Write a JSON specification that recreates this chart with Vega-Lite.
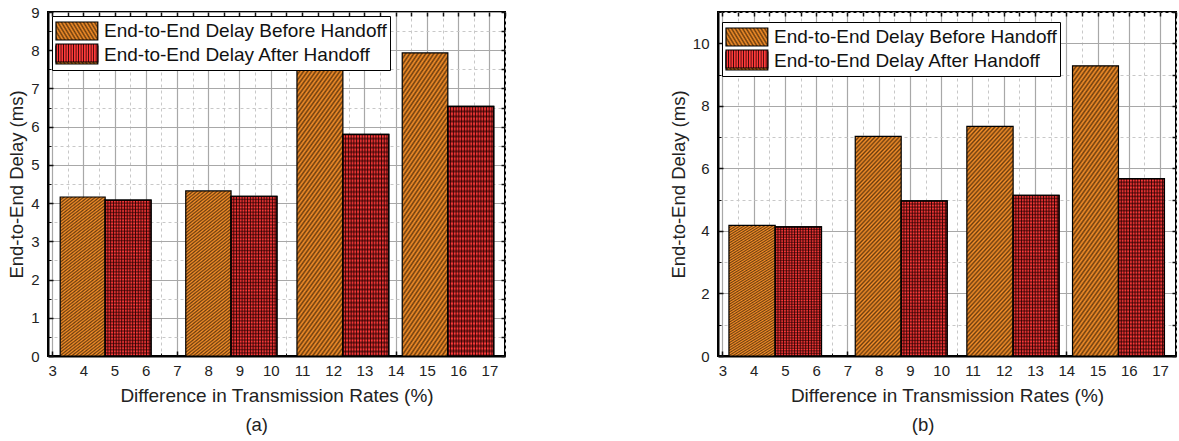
{
  "$schema": "https://vega.github.io/schema/vega-lite/v6.json",
  "padding": {"left": 6, "top": 4, "right": 1, "bottom": 2},
  "datasets": {
    "a": [
      {"series": "End-to-End Delay Before Handoff", "x0": 3.26, "x1": 4.70, "delay": 4.16},
      {"series": "End-to-End Delay Before Handoff", "x0": 7.28, "x1": 8.73, "delay": 4.32},
      {"series": "End-to-End Delay Before Handoff", "x0": 10.84, "x1": 12.31, "delay": 7.50},
      {"series": "End-to-End Delay Before Handoff", "x0": 14.21, "x1": 15.67, "delay": 7.93},
      {"series": "End-to-End Delay After Handoff", "x0": 4.70, "x1": 6.17, "delay": 4.08},
      {"series": "End-to-End Delay After Handoff", "x0": 8.73, "x1": 10.20, "delay": 4.18},
      {"series": "End-to-End Delay After Handoff", "x0": 12.31, "x1": 13.78, "delay": 5.80},
      {"series": "End-to-End Delay After Handoff", "x0": 15.67, "x1": 17.14, "delay": 6.53}
    ],
    "b": [
      {"series": "End-to-End Delay Before Handoff", "x0": 3.21, "x1": 4.69, "delay": 4.18},
      {"series": "End-to-End Delay Before Handoff", "x0": 7.25, "x1": 8.72, "delay": 7.02},
      {"series": "End-to-End Delay Before Handoff", "x0": 10.82, "x1": 12.30, "delay": 7.34},
      {"series": "End-to-End Delay Before Handoff", "x0": 14.20, "x1": 15.67, "delay": 9.28},
      {"series": "End-to-End Delay After Handoff", "x0": 4.69, "x1": 6.17, "delay": 4.13},
      {"series": "End-to-End Delay After Handoff", "x0": 8.72, "x1": 10.19, "delay": 4.96},
      {"series": "End-to-End Delay After Handoff", "x0": 12.30, "x1": 13.77, "delay": 5.14},
      {"series": "End-to-End Delay After Handoff", "x0": 15.67, "x1": 17.14, "delay": 5.67}
    ]
  },
  "config": {
    "font": "Liberation Sans",
    "view": {"stroke": "black", "strokeWidth": 2},
    "axis": {
      "labelFont": "Liberation Sans", "labelFontSize": 15, "labelColor": "#222",
      "titleFont": "Liberation Sans", "titleFontSize": 18.5, "titleFontWeight": "normal", "titleColor": "#222",
      "tickColor": "#111", "domain": false
    },
    "legend": {
      "labelFont": "Liberation Sans", "labelFontSize": 19, "labelColor": "#111", "labelLimit": 500,
      "symbolType": "M-1,-0.82H2.8V0.82H-1Z", "symbolSize": 484, "symbolStrokeColor": "black", "symbolStrokeWidth": 1.2,
      "symbolOpacity": 1, "rowPadding": 0, "labelOffset": 25,
      "fillColor": "white", "strokeColor": "black", "padding": 3, "title": null
    },
    "title": {"font": "Liberation Sans", "fontSize": 18.5, "fontWeight": "normal", "color": "#222"}
  },
  "resolve": {"legend": {"stroke": "independent"}, "scale": {"stroke": "independent"}},
  "spacing": 161,
  "hconcat": [
    {
      "width": 457, "height": 344,
      "data": {"name": "a"},
      "title": {"text": "(a)", "orient": "bottom", "anchor": "middle", "frame": "bounds", "offset": 11},
      "resolve": {"axis": {"x": "independent", "y": "independent"}, "scale": {"stroke": "independent"}, "legend": {"stroke": "independent"}},
      "layer": [
        {
          "mark": {"type": "point", "opacity": 0},
          "encoding": {
            "x": {"field": "x0", "type": "quantitative", "scale": {"domain": [2.87, 17.5], "nice": false, "zero": false},
              "axis": {"orient": "bottom", "values": [3.5,4.5,5.5,6.5,7.5,8.5,9.5,10.5,11.5,12.5,13.5,14.5,15.5,16.5,17.5], "grid": true, "gridColor": "#c8c8c8", "gridDash": [3, 3], "tickSize": -3, "labels": false, "title": null}},
            "y": {"field": "delay", "type": "quantitative", "scale": {"domain": [0, 9], "nice": false},
              "axis": {"orient": "left", "values": [0.5,1.5,2.5,3.5,4.5,5.5,6.5,7.5,8.5], "grid": true, "gridColor": "#c8c8c8", "gridDash": [3, 3], "tickSize": -3, "labels": false, "title": null}}
          }
        },
        {
          "transform": [{"filter": "datum.series === 'End-to-End Delay Before Handoff'"}],
          "mark": {"type": "rect", "strokeWidth": 1.2, "fill": {"gradient": "linear", "x1": 0, "y1": 0, "x2": 0.2588, "y2": 1.1647, "stops": [
            {"offset": 0, "color": "#6a3c0e"}, {"offset": 0.008, "color": "#f7902a"}, {"offset": 0.016, "color": "#6a3c0e"}, {"offset": 0.024, "color": "#f7902a"},
            {"offset": 0.032, "color": "#6a3c0e"}, {"offset": 0.04, "color": "#f7902a"}, {"offset": 0.048, "color": "#6a3c0e"}, {"offset": 0.056, "color": "#f7902a"},
            {"offset": 0.064, "color": "#6a3c0e"}, {"offset": 0.072, "color": "#f7902a"}, {"offset": 0.08, "color": "#6a3c0e"}, {"offset": 0.088, "color": "#f7902a"},
            {"offset": 0.096, "color": "#6a3c0e"}, {"offset": 0.104, "color": "#f7902a"}, {"offset": 0.112, "color": "#6a3c0e"}, {"offset": 0.12, "color": "#f7902a"},
            {"offset": 0.128, "color": "#6a3c0e"}, {"offset": 0.136, "color": "#f7902a"}, {"offset": 0.144, "color": "#6a3c0e"}, {"offset": 0.152, "color": "#f7902a"},
            {"offset": 0.16, "color": "#6a3c0e"}, {"offset": 0.168, "color": "#f7902a"}, {"offset": 0.176, "color": "#6a3c0e"}, {"offset": 0.184, "color": "#f7902a"},
            {"offset": 0.192, "color": "#6a3c0e"}, {"offset": 0.2, "color": "#f7902a"}, {"offset": 0.208, "color": "#6a3c0e"}, {"offset": 0.216, "color": "#f7902a"},
            {"offset": 0.224, "color": "#6a3c0e"}, {"offset": 0.232, "color": "#f7902a"}, {"offset": 0.24, "color": "#6a3c0e"}, {"offset": 0.248, "color": "#f7902a"},
            {"offset": 0.256, "color": "#6a3c0e"}, {"offset": 0.264, "color": "#f7902a"}, {"offset": 0.272, "color": "#6a3c0e"}, {"offset": 0.28, "color": "#f7902a"},
            {"offset": 0.288, "color": "#6a3c0e"}, {"offset": 0.296, "color": "#f7902a"}, {"offset": 0.304, "color": "#6a3c0e"}, {"offset": 0.312, "color": "#f7902a"},
            {"offset": 0.32, "color": "#6a3c0e"}, {"offset": 0.328, "color": "#f7902a"}, {"offset": 0.336, "color": "#6a3c0e"}, {"offset": 0.344, "color": "#f7902a"},
            {"offset": 0.352, "color": "#6a3c0e"}, {"offset": 0.36, "color": "#f7902a"}, {"offset": 0.368, "color": "#6a3c0e"}, {"offset": 0.376, "color": "#f7902a"},
            {"offset": 0.384, "color": "#6a3c0e"}, {"offset": 0.392, "color": "#f7902a"}, {"offset": 0.4, "color": "#6a3c0e"}, {"offset": 0.408, "color": "#f7902a"},
            {"offset": 0.416, "color": "#6a3c0e"}, {"offset": 0.424, "color": "#f7902a"}, {"offset": 0.432, "color": "#6a3c0e"}, {"offset": 0.44, "color": "#f7902a"},
            {"offset": 0.448, "color": "#6a3c0e"}, {"offset": 0.456, "color": "#f7902a"}, {"offset": 0.464, "color": "#6a3c0e"}, {"offset": 0.472, "color": "#f7902a"},
            {"offset": 0.48, "color": "#6a3c0e"}, {"offset": 0.488, "color": "#f7902a"}, {"offset": 0.496, "color": "#6a3c0e"}, {"offset": 0.504, "color": "#f7902a"},
            {"offset": 0.512, "color": "#6a3c0e"}, {"offset": 0.52, "color": "#f7902a"}, {"offset": 0.528, "color": "#6a3c0e"}, {"offset": 0.536, "color": "#f7902a"},
            {"offset": 0.544, "color": "#6a3c0e"}, {"offset": 0.552, "color": "#f7902a"}, {"offset": 0.56, "color": "#6a3c0e"}, {"offset": 0.568, "color": "#f7902a"},
            {"offset": 0.576, "color": "#6a3c0e"}, {"offset": 0.584, "color": "#f7902a"}, {"offset": 0.592, "color": "#6a3c0e"}, {"offset": 0.6, "color": "#f7902a"},
            {"offset": 0.608, "color": "#6a3c0e"}, {"offset": 0.616, "color": "#f7902a"}, {"offset": 0.624, "color": "#6a3c0e"}, {"offset": 0.632, "color": "#f7902a"},
            {"offset": 0.64, "color": "#6a3c0e"}, {"offset": 0.648, "color": "#f7902a"}, {"offset": 0.656, "color": "#6a3c0e"}, {"offset": 0.664, "color": "#f7902a"},
            {"offset": 0.672, "color": "#6a3c0e"}, {"offset": 0.68, "color": "#f7902a"}, {"offset": 0.688, "color": "#6a3c0e"}, {"offset": 0.696, "color": "#f7902a"},
            {"offset": 0.704, "color": "#6a3c0e"}, {"offset": 0.712, "color": "#f7902a"}, {"offset": 0.72, "color": "#6a3c0e"}, {"offset": 0.728, "color": "#f7902a"},
            {"offset": 0.736, "color": "#6a3c0e"}, {"offset": 0.744, "color": "#f7902a"}, {"offset": 0.752, "color": "#6a3c0e"}, {"offset": 0.76, "color": "#f7902a"},
            {"offset": 0.768, "color": "#6a3c0e"}, {"offset": 0.776, "color": "#f7902a"}, {"offset": 0.784, "color": "#6a3c0e"}, {"offset": 0.792, "color": "#f7902a"},
            {"offset": 0.8, "color": "#6a3c0e"}, {"offset": 0.808, "color": "#f7902a"}, {"offset": 0.816, "color": "#6a3c0e"}, {"offset": 0.824, "color": "#f7902a"},
            {"offset": 0.832, "color": "#6a3c0e"}, {"offset": 0.84, "color": "#f7902a"}, {"offset": 0.848, "color": "#6a3c0e"}, {"offset": 0.856, "color": "#f7902a"},
            {"offset": 0.864, "color": "#6a3c0e"}, {"offset": 0.872, "color": "#f7902a"}, {"offset": 0.88, "color": "#6a3c0e"}, {"offset": 0.888, "color": "#f7902a"},
            {"offset": 0.896, "color": "#6a3c0e"}, {"offset": 0.904, "color": "#f7902a"}, {"offset": 0.912, "color": "#6a3c0e"}, {"offset": 0.92, "color": "#f7902a"},
            {"offset": 0.928, "color": "#6a3c0e"}, {"offset": 0.936, "color": "#f7902a"}, {"offset": 0.944, "color": "#6a3c0e"}, {"offset": 0.952, "color": "#f7902a"},
            {"offset": 0.96, "color": "#6a3c0e"}, {"offset": 0.968, "color": "#f7902a"}, {"offset": 0.976, "color": "#6a3c0e"}, {"offset": 0.984, "color": "#f7902a"},
            {"offset": 0.992, "color": "#6a3c0e"}, {"offset": 1, "color": "#f7902a"}]}},
          "encoding": {
            "x": {"field": "x0", "type": "quantitative",
              "axis": {"orient": "bottom", "values": [3,4,5,6,7,8,9,10,11,12,13,14,15,16,17], "grid": true, "gridColor": "#a8a8a8", "gridWidth": 1.2, "tickSize": -5, "tickWidth": 1.5, "labelPadding": 12, "domain": true, "domainColor": "black", "domainWidth": 2, "title": "Difference in Transmission Rates (%)", "titlePadding": 8, "titleFontSize": 19}},
            "x2": {"field": "x1"},
            "y": {"field": "delay", "type": "quantitative",
              "axis": {"orient": "left", "values": [0,1,2,3,4,5,6,7,8,9], "grid": true, "gridColor": "#a8a8a8", "gridWidth": 1.2, "tickSize": -5, "tickWidth": 1.5, "labelPadding": 14, "domain": true, "domainColor": "black", "domainWidth": 2, "title": "End-to-End Delay (ms)", "titlePadding": 4}},
            "y2": {"datum": 0},
            "stroke": {"field": "series", "type": "nominal",
              "scale": {"domain": ["End-to-End Delay Before Handoff", "End-to-End Delay After Handoff"], "range": ["black", "black"]},
              "legend": {"orient": "none", "legendX": 4, "legendY": 4, "zindex": 1}}
          }
        },
        {
          "transform": [{"filter": "datum.series === 'End-to-End Delay After Handoff'"}],
          "mark": {"type": "rect", "strokeWidth": 1.2, "fill": {"gradient": "linear", "x1": 0, "y1": 0, "x2": 1, "y2": 0, "stops": [
            {"offset": 0, "color": "#3a0606"}, {"offset": 0.02, "color": "#ff3a3a"}, {"offset": 0.04, "color": "#ff3a3a"},
            {"offset": 0.06, "color": "#3a0606"}, {"offset": 0.08, "color": "#ff3a3a"}, {"offset": 0.1, "color": "#ff3a3a"},
            {"offset": 0.12, "color": "#3a0606"}, {"offset": 0.14, "color": "#ff3a3a"}, {"offset": 0.16, "color": "#ff3a3a"},
            {"offset": 0.18, "color": "#3a0606"}, {"offset": 0.2, "color": "#ff3a3a"}, {"offset": 0.22, "color": "#ff3a3a"},
            {"offset": 0.24, "color": "#3a0606"}, {"offset": 0.26, "color": "#ff3a3a"}, {"offset": 0.28, "color": "#ff3a3a"},
            {"offset": 0.3, "color": "#3a0606"}, {"offset": 0.32, "color": "#ff3a3a"}, {"offset": 0.34, "color": "#ff3a3a"},
            {"offset": 0.36, "color": "#3a0606"}, {"offset": 0.38, "color": "#ff3a3a"}, {"offset": 0.4, "color": "#ff3a3a"},
            {"offset": 0.42, "color": "#3a0606"}, {"offset": 0.44, "color": "#ff3a3a"}, {"offset": 0.46, "color": "#ff3a3a"},
            {"offset": 0.48, "color": "#3a0606"}, {"offset": 0.5, "color": "#ff3a3a"}, {"offset": 0.52, "color": "#ff3a3a"},
            {"offset": 0.54, "color": "#3a0606"}, {"offset": 0.56, "color": "#ff3a3a"}, {"offset": 0.58, "color": "#ff3a3a"},
            {"offset": 0.6, "color": "#3a0606"}, {"offset": 0.62, "color": "#ff3a3a"}, {"offset": 0.64, "color": "#ff3a3a"},
            {"offset": 0.66, "color": "#3a0606"}, {"offset": 0.68, "color": "#ff3a3a"}, {"offset": 0.7, "color": "#ff3a3a"},
            {"offset": 0.72, "color": "#3a0606"}, {"offset": 0.74, "color": "#ff3a3a"}, {"offset": 0.76, "color": "#ff3a3a"},
            {"offset": 0.78, "color": "#3a0606"}, {"offset": 0.8, "color": "#ff3a3a"}, {"offset": 0.82, "color": "#ff3a3a"},
            {"offset": 0.84, "color": "#3a0606"}, {"offset": 0.86, "color": "#ff3a3a"}, {"offset": 0.88, "color": "#ff3a3a"},
            {"offset": 0.9, "color": "#3a0606"}, {"offset": 0.92, "color": "#ff3a3a"}, {"offset": 0.94, "color": "#ff3a3a"},
            {"offset": 0.96, "color": "#3a0606"}, {"offset": 0.98, "color": "#ff3a3a"}, {"offset": 1, "color": "#ff3a3a"}]}},
          "encoding": {
            "x": {"field": "x0", "type": "quantitative", "axis": null},
            "x2": {"field": "x1"},
            "y": {"field": "delay", "type": "quantitative", "axis": null},
            "y2": {"datum": 0},
            "stroke": {"field": "series", "type": "nominal",
              "scale": {"domain": ["End-to-End Delay After Handoff"], "range": ["black"]},
              "legend": {"orient": "none", "legendX": 4, "legendY": 26, "zindex": 2, "fillColor": "transparent", "strokeColor": "transparent", "labelOpacity": 0}}
          }
        },
        {
          "transform": [{"filter": "datum.series === 'End-to-End Delay After Handoff'"}],
          "mark": {"type": "rect", "stroke": "black", "strokeWidth": 1.2, "fill": {"gradient": "linear", "x1": 0, "y1": 0, "x2": 0, "y2": 1, "stops": [
            {"offset": 0, "color": "#280000a6"}, {"offset": 0.01, "color": "#28000000"}, {"offset": 0.02, "color": "#280000a6"}, {"offset": 0.03, "color": "#28000000"},
            {"offset": 0.04, "color": "#280000a6"}, {"offset": 0.05, "color": "#28000000"}, {"offset": 0.06, "color": "#280000a6"}, {"offset": 0.07, "color": "#28000000"},
            {"offset": 0.08, "color": "#280000a6"}, {"offset": 0.09, "color": "#28000000"}, {"offset": 0.1, "color": "#280000a6"}, {"offset": 0.11, "color": "#28000000"},
            {"offset": 0.12, "color": "#280000a6"}, {"offset": 0.13, "color": "#28000000"}, {"offset": 0.14, "color": "#280000a6"}, {"offset": 0.15, "color": "#28000000"},
            {"offset": 0.16, "color": "#280000a6"}, {"offset": 0.17, "color": "#28000000"}, {"offset": 0.18, "color": "#280000a6"}, {"offset": 0.19, "color": "#28000000"},
            {"offset": 0.2, "color": "#280000a6"}, {"offset": 0.21, "color": "#28000000"}, {"offset": 0.22, "color": "#280000a6"}, {"offset": 0.23, "color": "#28000000"},
            {"offset": 0.24, "color": "#280000a6"}, {"offset": 0.25, "color": "#28000000"}, {"offset": 0.26, "color": "#280000a6"}, {"offset": 0.27, "color": "#28000000"},
            {"offset": 0.28, "color": "#280000a6"}, {"offset": 0.29, "color": "#28000000"}, {"offset": 0.3, "color": "#280000a6"}, {"offset": 0.31, "color": "#28000000"},
            {"offset": 0.32, "color": "#280000a6"}, {"offset": 0.33, "color": "#28000000"}, {"offset": 0.34, "color": "#280000a6"}, {"offset": 0.35, "color": "#28000000"},
            {"offset": 0.36, "color": "#280000a6"}, {"offset": 0.37, "color": "#28000000"}, {"offset": 0.38, "color": "#280000a6"}, {"offset": 0.39, "color": "#28000000"},
            {"offset": 0.4, "color": "#280000a6"}, {"offset": 0.41, "color": "#28000000"}, {"offset": 0.42, "color": "#280000a6"}, {"offset": 0.43, "color": "#28000000"},
            {"offset": 0.44, "color": "#280000a6"}, {"offset": 0.45, "color": "#28000000"}, {"offset": 0.46, "color": "#280000a6"}, {"offset": 0.47, "color": "#28000000"},
            {"offset": 0.48, "color": "#280000a6"}, {"offset": 0.49, "color": "#28000000"}, {"offset": 0.5, "color": "#280000a6"}, {"offset": 0.51, "color": "#28000000"},
            {"offset": 0.52, "color": "#280000a6"}, {"offset": 0.53, "color": "#28000000"}, {"offset": 0.54, "color": "#280000a6"}, {"offset": 0.55, "color": "#28000000"},
            {"offset": 0.56, "color": "#280000a6"}, {"offset": 0.57, "color": "#28000000"}, {"offset": 0.58, "color": "#280000a6"}, {"offset": 0.59, "color": "#28000000"},
            {"offset": 0.6, "color": "#280000a6"}, {"offset": 0.61, "color": "#28000000"}, {"offset": 0.62, "color": "#280000a6"}, {"offset": 0.63, "color": "#28000000"},
            {"offset": 0.64, "color": "#280000a6"}, {"offset": 0.65, "color": "#28000000"}, {"offset": 0.66, "color": "#280000a6"}, {"offset": 0.67, "color": "#28000000"},
            {"offset": 0.68, "color": "#280000a6"}, {"offset": 0.69, "color": "#28000000"}, {"offset": 0.7, "color": "#280000a6"}, {"offset": 0.71, "color": "#28000000"},
            {"offset": 0.72, "color": "#280000a6"}, {"offset": 0.73, "color": "#28000000"}, {"offset": 0.74, "color": "#280000a6"}, {"offset": 0.75, "color": "#28000000"},
            {"offset": 0.76, "color": "#280000a6"}, {"offset": 0.77, "color": "#28000000"}, {"offset": 0.78, "color": "#280000a6"}, {"offset": 0.79, "color": "#28000000"},
            {"offset": 0.8, "color": "#280000a6"}, {"offset": 0.81, "color": "#28000000"}, {"offset": 0.82, "color": "#280000a6"}, {"offset": 0.83, "color": "#28000000"},
            {"offset": 0.84, "color": "#280000a6"}, {"offset": 0.85, "color": "#28000000"}, {"offset": 0.86, "color": "#280000a6"}, {"offset": 0.87, "color": "#28000000"},
            {"offset": 0.88, "color": "#280000a6"}, {"offset": 0.89, "color": "#28000000"}, {"offset": 0.9, "color": "#280000a6"}, {"offset": 0.91, "color": "#28000000"},
            {"offset": 0.92, "color": "#280000a6"}, {"offset": 0.93, "color": "#28000000"}, {"offset": 0.94, "color": "#280000a6"}, {"offset": 0.95, "color": "#28000000"},
            {"offset": 0.96, "color": "#280000a6"}, {"offset": 0.97, "color": "#28000000"}, {"offset": 0.98, "color": "#280000a6"}, {"offset": 0.99, "color": "#28000000"},
            {"offset": 1, "color": "#280000a6"}]}},
          "encoding": {
            "x": {"field": "x0", "type": "quantitative", "axis": null},
            "x2": {"field": "x1"},
            "y": {"field": "delay", "type": "quantitative", "axis": null},
            "y2": {"datum": 0}
          }
        },
        {
          "mark": {"type": "point", "opacity": 0},
          "encoding": {
            "x": {"field": "x0", "type": "quantitative",
              "axis": {"orient": "top", "values": [3,3.5,4,4.5,5,5.5,6,6.5,7,7.5,8,8.5,9,9.5,10,10.5,11,11.5,12,12.5,13,13.5,14,14.5,15,15.5,16,16.5,17,17.5], "grid": false, "tickSize": -4, "tickWidth": 1.5, "labels": false, "title": null, "zindex": 1}},
            "y": {"field": "delay", "type": "quantitative",
              "axis": {"orient": "right", "values": [0,0.5,1,1.5,2,2.5,3,3.5,4,4.5,5,5.5,6,6.5,7,7.5,8,8.5,9], "grid": false, "tickSize": -4, "tickWidth": 1.5, "labels": false, "title": null, "zindex": 1}}
          }
        }
      ]
    },
    {
      "width": 458, "height": 344,
      "data": {"name": "b"},
      "title": {"text": "(b)", "orient": "bottom", "anchor": "middle", "frame": "bounds", "offset": 11},
      "resolve": {"axis": {"x": "independent", "y": "independent"}, "scale": {"stroke": "independent"}, "legend": {"stroke": "independent"}},
      "layer": [
        {
          "mark": {"type": "point", "opacity": 0},
          "encoding": {
            "x": {"field": "x0", "type": "quantitative", "scale": {"domain": [2.86, 17.51], "nice": false, "zero": false},
              "axis": {"orient": "bottom", "values": [3.5,4.5,5.5,6.5,7.5,8.5,9.5,10.5,11.5,12.5,13.5,14.5,15.5,16.5,17.5], "grid": true, "gridColor": "#c8c8c8", "gridDash": [3, 3], "tickSize": -3, "labels": false, "title": null}},
            "y": {"field": "delay", "type": "quantitative", "scale": {"domain": [0, 11], "nice": false},
              "axis": {"orient": "left", "values": [1,3,5,7,9,11], "grid": true, "gridColor": "#c8c8c8", "gridDash": [3, 3], "tickSize": -3, "labels": false, "title": null}}
          }
        },
        {
          "transform": [{"filter": "datum.series === 'End-to-End Delay Before Handoff'"}],
          "mark": {"type": "rect", "strokeWidth": 1.2, "fill": {"gradient": "linear", "x1": 0, "y1": 0, "x2": 0.2588, "y2": 1.1647, "stops": [
            {"offset": 0, "color": "#6a3c0e"}, {"offset": 0.008, "color": "#f7902a"}, {"offset": 0.016, "color": "#6a3c0e"}, {"offset": 0.024, "color": "#f7902a"},
            {"offset": 0.032, "color": "#6a3c0e"}, {"offset": 0.04, "color": "#f7902a"}, {"offset": 0.048, "color": "#6a3c0e"}, {"offset": 0.056, "color": "#f7902a"},
            {"offset": 0.064, "color": "#6a3c0e"}, {"offset": 0.072, "color": "#f7902a"}, {"offset": 0.08, "color": "#6a3c0e"}, {"offset": 0.088, "color": "#f7902a"},
            {"offset": 0.096, "color": "#6a3c0e"}, {"offset": 0.104, "color": "#f7902a"}, {"offset": 0.112, "color": "#6a3c0e"}, {"offset": 0.12, "color": "#f7902a"},
            {"offset": 0.128, "color": "#6a3c0e"}, {"offset": 0.136, "color": "#f7902a"}, {"offset": 0.144, "color": "#6a3c0e"}, {"offset": 0.152, "color": "#f7902a"},
            {"offset": 0.16, "color": "#6a3c0e"}, {"offset": 0.168, "color": "#f7902a"}, {"offset": 0.176, "color": "#6a3c0e"}, {"offset": 0.184, "color": "#f7902a"},
            {"offset": 0.192, "color": "#6a3c0e"}, {"offset": 0.2, "color": "#f7902a"}, {"offset": 0.208, "color": "#6a3c0e"}, {"offset": 0.216, "color": "#f7902a"},
            {"offset": 0.224, "color": "#6a3c0e"}, {"offset": 0.232, "color": "#f7902a"}, {"offset": 0.24, "color": "#6a3c0e"}, {"offset": 0.248, "color": "#f7902a"},
            {"offset": 0.256, "color": "#6a3c0e"}, {"offset": 0.264, "color": "#f7902a"}, {"offset": 0.272, "color": "#6a3c0e"}, {"offset": 0.28, "color": "#f7902a"},
            {"offset": 0.288, "color": "#6a3c0e"}, {"offset": 0.296, "color": "#f7902a"}, {"offset": 0.304, "color": "#6a3c0e"}, {"offset": 0.312, "color": "#f7902a"},
            {"offset": 0.32, "color": "#6a3c0e"}, {"offset": 0.328, "color": "#f7902a"}, {"offset": 0.336, "color": "#6a3c0e"}, {"offset": 0.344, "color": "#f7902a"},
            {"offset": 0.352, "color": "#6a3c0e"}, {"offset": 0.36, "color": "#f7902a"}, {"offset": 0.368, "color": "#6a3c0e"}, {"offset": 0.376, "color": "#f7902a"},
            {"offset": 0.384, "color": "#6a3c0e"}, {"offset": 0.392, "color": "#f7902a"}, {"offset": 0.4, "color": "#6a3c0e"}, {"offset": 0.408, "color": "#f7902a"},
            {"offset": 0.416, "color": "#6a3c0e"}, {"offset": 0.424, "color": "#f7902a"}, {"offset": 0.432, "color": "#6a3c0e"}, {"offset": 0.44, "color": "#f7902a"},
            {"offset": 0.448, "color": "#6a3c0e"}, {"offset": 0.456, "color": "#f7902a"}, {"offset": 0.464, "color": "#6a3c0e"}, {"offset": 0.472, "color": "#f7902a"},
            {"offset": 0.48, "color": "#6a3c0e"}, {"offset": 0.488, "color": "#f7902a"}, {"offset": 0.496, "color": "#6a3c0e"}, {"offset": 0.504, "color": "#f7902a"},
            {"offset": 0.512, "color": "#6a3c0e"}, {"offset": 0.52, "color": "#f7902a"}, {"offset": 0.528, "color": "#6a3c0e"}, {"offset": 0.536, "color": "#f7902a"},
            {"offset": 0.544, "color": "#6a3c0e"}, {"offset": 0.552, "color": "#f7902a"}, {"offset": 0.56, "color": "#6a3c0e"}, {"offset": 0.568, "color": "#f7902a"},
            {"offset": 0.576, "color": "#6a3c0e"}, {"offset": 0.584, "color": "#f7902a"}, {"offset": 0.592, "color": "#6a3c0e"}, {"offset": 0.6, "color": "#f7902a"},
            {"offset": 0.608, "color": "#6a3c0e"}, {"offset": 0.616, "color": "#f7902a"}, {"offset": 0.624, "color": "#6a3c0e"}, {"offset": 0.632, "color": "#f7902a"},
            {"offset": 0.64, "color": "#6a3c0e"}, {"offset": 0.648, "color": "#f7902a"}, {"offset": 0.656, "color": "#6a3c0e"}, {"offset": 0.664, "color": "#f7902a"},
            {"offset": 0.672, "color": "#6a3c0e"}, {"offset": 0.68, "color": "#f7902a"}, {"offset": 0.688, "color": "#6a3c0e"}, {"offset": 0.696, "color": "#f7902a"},
            {"offset": 0.704, "color": "#6a3c0e"}, {"offset": 0.712, "color": "#f7902a"}, {"offset": 0.72, "color": "#6a3c0e"}, {"offset": 0.728, "color": "#f7902a"},
            {"offset": 0.736, "color": "#6a3c0e"}, {"offset": 0.744, "color": "#f7902a"}, {"offset": 0.752, "color": "#6a3c0e"}, {"offset": 0.76, "color": "#f7902a"},
            {"offset": 0.768, "color": "#6a3c0e"}, {"offset": 0.776, "color": "#f7902a"}, {"offset": 0.784, "color": "#6a3c0e"}, {"offset": 0.792, "color": "#f7902a"},
            {"offset": 0.8, "color": "#6a3c0e"}, {"offset": 0.808, "color": "#f7902a"}, {"offset": 0.816, "color": "#6a3c0e"}, {"offset": 0.824, "color": "#f7902a"},
            {"offset": 0.832, "color": "#6a3c0e"}, {"offset": 0.84, "color": "#f7902a"}, {"offset": 0.848, "color": "#6a3c0e"}, {"offset": 0.856, "color": "#f7902a"},
            {"offset": 0.864, "color": "#6a3c0e"}, {"offset": 0.872, "color": "#f7902a"}, {"offset": 0.88, "color": "#6a3c0e"}, {"offset": 0.888, "color": "#f7902a"},
            {"offset": 0.896, "color": "#6a3c0e"}, {"offset": 0.904, "color": "#f7902a"}, {"offset": 0.912, "color": "#6a3c0e"}, {"offset": 0.92, "color": "#f7902a"},
            {"offset": 0.928, "color": "#6a3c0e"}, {"offset": 0.936, "color": "#f7902a"}, {"offset": 0.944, "color": "#6a3c0e"}, {"offset": 0.952, "color": "#f7902a"},
            {"offset": 0.96, "color": "#6a3c0e"}, {"offset": 0.968, "color": "#f7902a"}, {"offset": 0.976, "color": "#6a3c0e"}, {"offset": 0.984, "color": "#f7902a"},
            {"offset": 0.992, "color": "#6a3c0e"}, {"offset": 1, "color": "#f7902a"}]}},
          "encoding": {
            "x": {"field": "x0", "type": "quantitative",
              "axis": {"orient": "bottom", "values": [3,4,5,6,7,8,9,10,11,12,13,14,15,16,17], "grid": true, "gridColor": "#a8a8a8", "gridWidth": 1.2, "tickSize": -5, "tickWidth": 1.5, "labelPadding": 12, "domain": true, "domainColor": "black", "domainWidth": 2, "title": "Difference in Transmission Rates (%)", "titlePadding": 8, "titleFontSize": 19}},
            "x2": {"field": "x1"},
            "y": {"field": "delay", "type": "quantitative",
              "axis": {"orient": "left", "values": [0,2,4,6,8,10], "grid": true, "gridColor": "#a8a8a8", "gridWidth": 1.2, "tickSize": -5, "tickWidth": 1.5, "labelPadding": 14, "domain": true, "domainColor": "black", "domainWidth": 2, "title": "End-to-End Delay (ms)", "titlePadding": 4}},
            "y2": {"datum": 0},
            "stroke": {"field": "series", "type": "nominal",
              "scale": {"domain": ["End-to-End Delay Before Handoff", "End-to-End Delay After Handoff"], "range": ["black", "black"]},
              "legend": {"orient": "none", "legendX": 4, "legendY": 10, "zindex": 1}}
          }
        },
        {
          "transform": [{"filter": "datum.series === 'End-to-End Delay After Handoff'"}],
          "mark": {"type": "rect", "strokeWidth": 1.2, "fill": {"gradient": "linear", "x1": 0, "y1": 0, "x2": 1, "y2": 0, "stops": [
            {"offset": 0, "color": "#3a0606"}, {"offset": 0.02, "color": "#ff3a3a"}, {"offset": 0.04, "color": "#ff3a3a"},
            {"offset": 0.06, "color": "#3a0606"}, {"offset": 0.08, "color": "#ff3a3a"}, {"offset": 0.1, "color": "#ff3a3a"},
            {"offset": 0.12, "color": "#3a0606"}, {"offset": 0.14, "color": "#ff3a3a"}, {"offset": 0.16, "color": "#ff3a3a"},
            {"offset": 0.18, "color": "#3a0606"}, {"offset": 0.2, "color": "#ff3a3a"}, {"offset": 0.22, "color": "#ff3a3a"},
            {"offset": 0.24, "color": "#3a0606"}, {"offset": 0.26, "color": "#ff3a3a"}, {"offset": 0.28, "color": "#ff3a3a"},
            {"offset": 0.3, "color": "#3a0606"}, {"offset": 0.32, "color": "#ff3a3a"}, {"offset": 0.34, "color": "#ff3a3a"},
            {"offset": 0.36, "color": "#3a0606"}, {"offset": 0.38, "color": "#ff3a3a"}, {"offset": 0.4, "color": "#ff3a3a"},
            {"offset": 0.42, "color": "#3a0606"}, {"offset": 0.44, "color": "#ff3a3a"}, {"offset": 0.46, "color": "#ff3a3a"},
            {"offset": 0.48, "color": "#3a0606"}, {"offset": 0.5, "color": "#ff3a3a"}, {"offset": 0.52, "color": "#ff3a3a"},
            {"offset": 0.54, "color": "#3a0606"}, {"offset": 0.56, "color": "#ff3a3a"}, {"offset": 0.58, "color": "#ff3a3a"},
            {"offset": 0.6, "color": "#3a0606"}, {"offset": 0.62, "color": "#ff3a3a"}, {"offset": 0.64, "color": "#ff3a3a"},
            {"offset": 0.66, "color": "#3a0606"}, {"offset": 0.68, "color": "#ff3a3a"}, {"offset": 0.7, "color": "#ff3a3a"},
            {"offset": 0.72, "color": "#3a0606"}, {"offset": 0.74, "color": "#ff3a3a"}, {"offset": 0.76, "color": "#ff3a3a"},
            {"offset": 0.78, "color": "#3a0606"}, {"offset": 0.8, "color": "#ff3a3a"}, {"offset": 0.82, "color": "#ff3a3a"},
            {"offset": 0.84, "color": "#3a0606"}, {"offset": 0.86, "color": "#ff3a3a"}, {"offset": 0.88, "color": "#ff3a3a"},
            {"offset": 0.9, "color": "#3a0606"}, {"offset": 0.92, "color": "#ff3a3a"}, {"offset": 0.94, "color": "#ff3a3a"},
            {"offset": 0.96, "color": "#3a0606"}, {"offset": 0.98, "color": "#ff3a3a"}, {"offset": 1, "color": "#ff3a3a"}]}},
          "encoding": {
            "x": {"field": "x0", "type": "quantitative", "axis": null},
            "x2": {"field": "x1"},
            "y": {"field": "delay", "type": "quantitative", "axis": null},
            "y2": {"datum": 0},
            "stroke": {"field": "series", "type": "nominal",
              "scale": {"domain": ["End-to-End Delay After Handoff"], "range": ["black"]},
              "legend": {"orient": "none", "legendX": 4, "legendY": 32, "zindex": 2, "fillColor": "transparent", "strokeColor": "transparent", "labelOpacity": 0}}
          }
        },
        {
          "transform": [{"filter": "datum.series === 'End-to-End Delay After Handoff'"}],
          "mark": {"type": "rect", "stroke": "black", "strokeWidth": 1.2, "fill": {"gradient": "linear", "x1": 0, "y1": 0, "x2": 0, "y2": 1, "stops": [
            {"offset": 0, "color": "#280000a6"}, {"offset": 0.01, "color": "#28000000"}, {"offset": 0.02, "color": "#280000a6"}, {"offset": 0.03, "color": "#28000000"},
            {"offset": 0.04, "color": "#280000a6"}, {"offset": 0.05, "color": "#28000000"}, {"offset": 0.06, "color": "#280000a6"}, {"offset": 0.07, "color": "#28000000"},
            {"offset": 0.08, "color": "#280000a6"}, {"offset": 0.09, "color": "#28000000"}, {"offset": 0.1, "color": "#280000a6"}, {"offset": 0.11, "color": "#28000000"},
            {"offset": 0.12, "color": "#280000a6"}, {"offset": 0.13, "color": "#28000000"}, {"offset": 0.14, "color": "#280000a6"}, {"offset": 0.15, "color": "#28000000"},
            {"offset": 0.16, "color": "#280000a6"}, {"offset": 0.17, "color": "#28000000"}, {"offset": 0.18, "color": "#280000a6"}, {"offset": 0.19, "color": "#28000000"},
            {"offset": 0.2, "color": "#280000a6"}, {"offset": 0.21, "color": "#28000000"}, {"offset": 0.22, "color": "#280000a6"}, {"offset": 0.23, "color": "#28000000"},
            {"offset": 0.24, "color": "#280000a6"}, {"offset": 0.25, "color": "#28000000"}, {"offset": 0.26, "color": "#280000a6"}, {"offset": 0.27, "color": "#28000000"},
            {"offset": 0.28, "color": "#280000a6"}, {"offset": 0.29, "color": "#28000000"}, {"offset": 0.3, "color": "#280000a6"}, {"offset": 0.31, "color": "#28000000"},
            {"offset": 0.32, "color": "#280000a6"}, {"offset": 0.33, "color": "#28000000"}, {"offset": 0.34, "color": "#280000a6"}, {"offset": 0.35, "color": "#28000000"},
            {"offset": 0.36, "color": "#280000a6"}, {"offset": 0.37, "color": "#28000000"}, {"offset": 0.38, "color": "#280000a6"}, {"offset": 0.39, "color": "#28000000"},
            {"offset": 0.4, "color": "#280000a6"}, {"offset": 0.41, "color": "#28000000"}, {"offset": 0.42, "color": "#280000a6"}, {"offset": 0.43, "color": "#28000000"},
            {"offset": 0.44, "color": "#280000a6"}, {"offset": 0.45, "color": "#28000000"}, {"offset": 0.46, "color": "#280000a6"}, {"offset": 0.47, "color": "#28000000"},
            {"offset": 0.48, "color": "#280000a6"}, {"offset": 0.49, "color": "#28000000"}, {"offset": 0.5, "color": "#280000a6"}, {"offset": 0.51, "color": "#28000000"},
            {"offset": 0.52, "color": "#280000a6"}, {"offset": 0.53, "color": "#28000000"}, {"offset": 0.54, "color": "#280000a6"}, {"offset": 0.55, "color": "#28000000"},
            {"offset": 0.56, "color": "#280000a6"}, {"offset": 0.57, "color": "#28000000"}, {"offset": 0.58, "color": "#280000a6"}, {"offset": 0.59, "color": "#28000000"},
            {"offset": 0.6, "color": "#280000a6"}, {"offset": 0.61, "color": "#28000000"}, {"offset": 0.62, "color": "#280000a6"}, {"offset": 0.63, "color": "#28000000"},
            {"offset": 0.64, "color": "#280000a6"}, {"offset": 0.65, "color": "#28000000"}, {"offset": 0.66, "color": "#280000a6"}, {"offset": 0.67, "color": "#28000000"},
            {"offset": 0.68, "color": "#280000a6"}, {"offset": 0.69, "color": "#28000000"}, {"offset": 0.7, "color": "#280000a6"}, {"offset": 0.71, "color": "#28000000"},
            {"offset": 0.72, "color": "#280000a6"}, {"offset": 0.73, "color": "#28000000"}, {"offset": 0.74, "color": "#280000a6"}, {"offset": 0.75, "color": "#28000000"},
            {"offset": 0.76, "color": "#280000a6"}, {"offset": 0.77, "color": "#28000000"}, {"offset": 0.78, "color": "#280000a6"}, {"offset": 0.79, "color": "#28000000"},
            {"offset": 0.8, "color": "#280000a6"}, {"offset": 0.81, "color": "#28000000"}, {"offset": 0.82, "color": "#280000a6"}, {"offset": 0.83, "color": "#28000000"},
            {"offset": 0.84, "color": "#280000a6"}, {"offset": 0.85, "color": "#28000000"}, {"offset": 0.86, "color": "#280000a6"}, {"offset": 0.87, "color": "#28000000"},
            {"offset": 0.88, "color": "#280000a6"}, {"offset": 0.89, "color": "#28000000"}, {"offset": 0.9, "color": "#280000a6"}, {"offset": 0.91, "color": "#28000000"},
            {"offset": 0.92, "color": "#280000a6"}, {"offset": 0.93, "color": "#28000000"}, {"offset": 0.94, "color": "#280000a6"}, {"offset": 0.95, "color": "#28000000"},
            {"offset": 0.96, "color": "#280000a6"}, {"offset": 0.97, "color": "#28000000"}, {"offset": 0.98, "color": "#280000a6"}, {"offset": 0.99, "color": "#28000000"},
            {"offset": 1, "color": "#280000a6"}]}},
          "encoding": {
            "x": {"field": "x0", "type": "quantitative", "axis": null},
            "x2": {"field": "x1"},
            "y": {"field": "delay", "type": "quantitative", "axis": null},
            "y2": {"datum": 0}
          }
        },
        {
          "mark": {"type": "point", "opacity": 0},
          "encoding": {
            "x": {"field": "x0", "type": "quantitative",
              "axis": {"orient": "top", "values": [3,3.5,4,4.5,5,5.5,6,6.5,7,7.5,8,8.5,9,9.5,10,10.5,11,11.5,12,12.5,13,13.5,14,14.5,15,15.5,16,16.5,17,17.5], "grid": false, "tickSize": -4, "tickWidth": 1.5, "labels": false, "title": null, "zindex": 1}},
            "y": {"field": "delay", "type": "quantitative",
              "axis": {"orient": "right", "values": [0,1,2,3,4,5,6,7,8,9,10,11], "grid": false, "tickSize": -4, "tickWidth": 1.5, "labels": false, "title": null, "zindex": 1}}
          }
        }
      ]
    }
  ]
}
